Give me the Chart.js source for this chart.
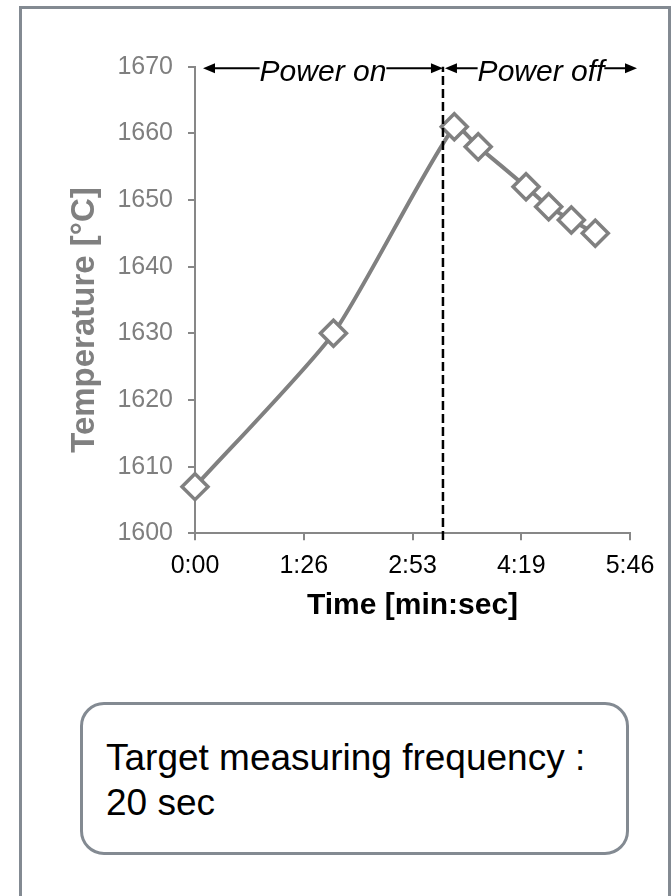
<!DOCTYPE html>
<html>
<head>
<meta charset="utf-8">
<script src="https://cdn.jsdelivr.net/npm/chart.js@4.4.1/dist/chart.umd.min.js"></script>
<style>
  body { margin: 0; background: #fff; width: 671px; height: 896px; overflow: hidden; position: relative;
         font-family: "Liberation Sans", Arial, sans-serif; }
  #frame { position: absolute; left: 19px; top: 6px; width: 652px; height: 900px;
           border: 3px solid #838a92; border-bottom: none; box-sizing: border-box; }
  #chartWrap { position: absolute; left: 0; top: 0; width: 671px; height: 650px; }
  #note { position: absolute; left: 80px; top: 702px; width: 549px; height: 153px;
          border: 3px solid #838a92; border-radius: 24px; box-sizing: border-box; }
  #noteText { position: absolute; left: 106px; top: 735px; font-size: 37px; line-height: 45px; color: #000; }
</style>
</head>
<body>
<div id="frame"></div>
<div id="chartWrap"><canvas id="chart" width="671" height="650"></canvas></div>
<div id="note"></div>
<div id="noteText">Target measuring frequency :<br>20 sec</div>
<script>
// measured points (time in seconds, temperature in °C)
const timeSec = [0, 110, 206, 225, 263, 281, 299, 318];
const tempC = [1607, 1630, 1661, 1658, 1652, 1649, 1647, 1645];

// x axis ticks (Excel day fractions of 0.001 d = 86.4 s)
const xTickValues = [0, 86.4, 172.8, 259.2, 345.6];
const xTickLabels = ["0:00", "1:26", "2:53", "4:19", "5:46"];
const yMin = 1600;
const yMax = 1670;
const yStep = 10;

const powerOffTime = 197;
const phaseLabels = ["Power on", "Power off"];
const yTitle = "Temperature [°C]";
const xTitle = "Time [min:sec]";

const FONT = "'Liberation Sans', Arial, sans-serif";
Chart.defaults.font.family = FONT;

const drawSpan = (ctx, a, b, lineY, text) => {
  const w = ctx.measureText(text).width;
  const c = (a + b) / 2;
  ctx.beginPath();
  ctx.moveTo(a + 10, lineY);
  ctx.lineTo(c - w / 2, lineY);
  ctx.moveTo(c + w / 2, lineY);
  ctx.lineTo(b - 10, lineY);
  ctx.stroke();
  // arrow heads
  ctx.beginPath();
  ctx.moveTo(a, lineY);
  ctx.lineTo(a + 12, lineY - 5);
  ctx.lineTo(a + 12, lineY + 5);
  ctx.closePath();
  ctx.moveTo(b, lineY);
  ctx.lineTo(b - 12, lineY - 5);
  ctx.lineTo(b - 12, lineY + 5);
  ctx.closePath();
  ctx.fill();
  ctx.textAlign = "center";
  ctx.textBaseline = "alphabetic";
  ctx.fillText(text, c, lineY + 13);
};

const annotations = {
  id: "annotations",
  afterDraw(chart) {
    const { ctx, scales: { x, y } } = chart;
    const lineY = y.getPixelForValue(yMax) + 1.5;
    const xSwitch = x.getPixelForValue(powerOffTime);
    ctx.save();
    ctx.font = "italic 30px " + FONT;
    ctx.fillStyle = "#000";
    ctx.strokeStyle = "#000";
    ctx.lineWidth = 2;
    drawSpan(ctx, x.getPixelForValue(0) + 8, xSwitch, lineY, phaseLabels[0]);
    drawSpan(ctx, xSwitch + 2, x.getPixelForValue(xTickValues[4]) + 7, lineY, phaseLabels[1]);

    // y axis title, sits a bit below the axis middle like the original
    ctx.translate(94, 320);
    ctx.rotate(-Math.PI / 2);
    ctx.font = "bold 33px " + FONT;
    ctx.fillStyle = "#808080";
    ctx.textAlign = "center";
    ctx.textBaseline = "alphabetic";
    ctx.fillText(yTitle, 0, 0);
    ctx.restore();
  },
};

const config = {
  type: "line",
  data: {
    datasets: [
      {
        label: "Temperature",
        data: timeSec.map((t, i) => ({ x: t, y: tempC[i] })),
        borderColor: "#808080",
        borderWidth: 4,
        tension: 0.2,
        pointStyle: "rectRot",
        pointRadius: 13,
        pointBorderWidth: 3.5,
        pointBackgroundColor: "#fff",
        pointBorderColor: "#808080",
        clip: false,
        order: 2,
      },
      {
        label: "Power off",
        data: [{ x: powerOffTime, y: yMin - 1 }, { x: powerOffTime, y: yMax }],
        borderColor: "#000",
        borderWidth: 2.5,
        borderDash: [9, 4],
        pointRadius: 0,
        clip: false,
        order: 1,
      },
    ],
  },
  options: {
    responsive: false,
    animation: false,
    layout: { padding: { left: 0, right: 41, top: 66.7, bottom: 0 } },
    plugins: { legend: { display: false }, tooltip: { enabled: false } },
    scales: {
      x: {
        type: "linear",
        min: 0,
        max: xTickValues[4],
        afterBuildTicks: (s) => {
          s.ticks = xTickValues.map((v) => ({ value: v }));
        },
        afterFit: (s) => {
          s.height = 650 - 533.3;
        },
        ticks: {
          autoSkip: false,
          maxRotation: 0,
          padding: 11,
          color: "#000",
          font: { size: 25 },
          callback: (v, i) => xTickLabels[i],
        },
        grid: { drawOnChartArea: false, tickLength: 7, color: "#878787", lineWidth: 2 },
        border: { color: "#878787", width: 2 },
        title: {
          display: true,
          text: xTitle,
          color: "#000",
          font: { size: 30, weight: "bold" },
          padding: { top: 0, bottom: 26 },
        },
      },
      y: {
        min: yMin,
        max: yMax,
        afterFit: (s) => {
          s.width = 195;
        },
        ticks: {
          stepSize: yStep,
          padding: 15,
          color: "#7f7f7f",
          font: { size: 25 },
          callback: (v) => String(v),
        },
        grid: { drawOnChartArea: false, tickLength: 7, color: "#878787", lineWidth: 2 },
        border: { color: "#878787", width: 2 },
      },
    },
  },
  plugins: [annotations],
};

new Chart(document.getElementById("chart"), config);
</script>
</body>
</html>
